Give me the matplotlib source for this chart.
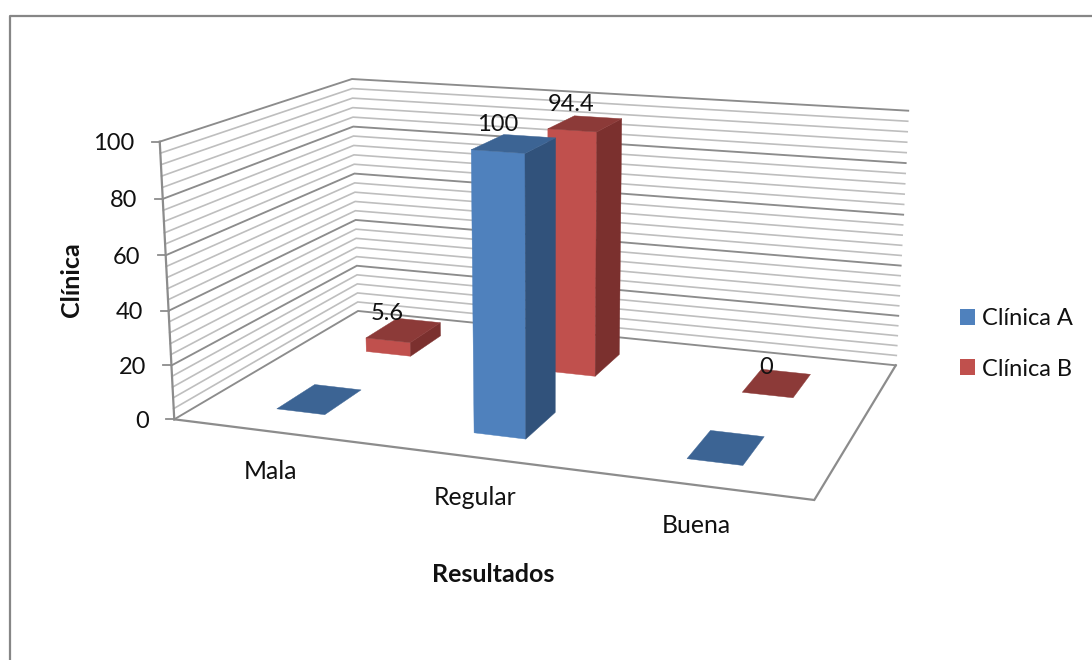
"""3D-style clustered column chart drawn on a flat canvas through a fitted perspective."""
import matplotlib

matplotlib.use("Agg")
import matplotlib.pyplot as plt
import numpy as np
from matplotlib.patches import Patch, Polygon

categories = ["Mala", "Regular", "Buena"]
clinica_a = [0, 100, 0]
clinica_b = [5.6, 94.4, 0]
series_names = ["Clínica A", "Clínica B"]
value_ticks = [0, 20, 40, 60, 80, 100]
minor_step = 4

# Box corners (category, depth, value) and where they land on the canvas
BOX_CORNERS = [(0, 0, 0), (0, 1, 0), (1, 1, 0), (1, 0, 0), (0, 0, 100), (0, 1, 100), (1, 1, 100)]
CANVAS_CORNERS = [(174, 419.3), (358.3, 311), (895.7, 365.3), (814.3, 500),
                  (160, 141.7), (351.7, 79), (908.3, 110.7)]

BAR_WIDTH = 1 / 12
BAR_DEPTH = 0.2
ROW_CENTER = [0.25, 0.75]

# Label nudges from the centre of each column top, per category
BLUE_LABEL_SHIFT = [(-16, -19), (-16, -19), (-16, -19)]
RED_LABEL_SHIFT = [(-16, -17), (-14, -19), (-11, -16)]

# front, side, top
BLUE = ("#4F81BD", "#31527B", "#3C6494")
RED = ("#C0504D", "#7B302E", "#8C3A38")
MAJOR = "#8C8C8C"
MINOR = "#BEBEBE"
TEXT = "#111111"

plt.rcParams["font.family"] = ["Lato", "DejaVu Sans"]


def fit_projection(model, canvas):
    rows, rhs = [], []
    for (x, y, z), (u, v) in zip(model, canvas):
        rows.append([x, y, z, 1, 0, 0, 0, 0, -u * x, -u * y, -u * z])
        rows.append([0, 0, 0, 0, x, y, z, 1, -v * x, -v * y, -v * z])
        rhs += [u, v]
    p = np.linalg.lstsq(np.array(rows, float), np.array(rhs, float), rcond=None)[0]
    return np.append(p, 1).reshape(3, 4)


P = fit_projection(BOX_CORNERS, CANVAS_CORNERS)


def project(x, y, z):
    h = P @ np.array([x, y, z, 1.0])
    return h[0] / h[2], h[1] / h[2]


def draw_bar(ax, cx, row, value, colors, zorder):
    x0, x1 = cx - BAR_WIDTH / 2, cx + BAR_WIDTH / 2
    y0, y1 = ROW_CENTER[row] - BAR_DEPTH / 2, ROW_CENTER[row] + BAR_DEPTH / 2
    faces = []
    if value > 0:
        faces.append((colors[0], [(x0, y0, 0), (x1, y0, 0), (x1, y0, value), (x0, y0, value)]))
        faces.append((colors[1], [(x1, y0, 0), (x1, y1, 0), (x1, y1, value), (x1, y0, value)]))
    faces.append((colors[2], [(x0, y0, value), (x1, y0, value), (x1, y1, value), (x0, y1, value)]))
    for color, corners in faces:
        ax.add_patch(Polygon([project(*c) for c in corners], closed=True, facecolor=color,
                             edgecolor=color, linewidth=0.3, zorder=zorder))


fig = plt.figure(figsize=(10.92, 6.6), dpi=100, facecolor="white")
ax = fig.add_axes([0, 0, 1, 1])
ax.set_xlim(0, 1092)
ax.set_ylim(660, 0)
ax.axis("off")

# Outer chart border: only the top and left edges are in frame
ax.plot([9.5, 9.5, 1092], [660, 15.5, 15.5], color="#868686", lw=1.6, zorder=1)

# Gridlines wrap from the left wall onto the back wall
for z in range(0, 101, minor_step):
    major = z % 20 == 0
    pts = [project(0, 0, z), project(0, 1, z), project(1, 1, z)]
    ax.plot(*zip(*pts), color=MAJOR if major else MINOR, lw=1.35 if major else 1.2,
            solid_joinstyle="miter", zorder=2)

# Floor edges and the value axis
floor = [project(0, 0, 0), project(1, 0, 0), project(1, 1, 0)]
ax.plot(*zip(*floor), color=MAJOR, lw=1.6, solid_joinstyle="miter", zorder=2)
ax.plot(*zip(project(0, 0, 0), project(0, 0, 100)), color=MAJOR, lw=1.6, zorder=2)

for z in value_ticks:
    u, v = project(0, 0, z)
    ax.plot([u - 8, u], [v, v], color=MAJOR, lw=1.3, zorder=2)
    ax.text(u - 25, v + 2, str(z), ha="right", va="center", fontsize=17, color=TEXT)

# Back row first so the front row overlaps it
centers = [(i + 0.5) / 3 for i in range(len(categories))]
for cx, value in zip(centers, clinica_b):
    draw_bar(ax, cx, 1, value, RED, 3)
for cx, value in zip(centers, clinica_a):
    draw_bar(ax, cx, 0, value, BLUE, 4)

# Blue columns at zero carry no label
for cx, value, (du, dv) in zip(centers, clinica_a, BLUE_LABEL_SHIFT):
    if value > 0:
        u, v = project(cx, ROW_CENTER[0], value)
        ax.text(u + du, v + dv, f"{value:g}", ha="center", va="center", fontsize=17, color=TEXT, zorder=6)
for cx, value, (du, dv) in zip(centers, clinica_b, RED_LABEL_SHIFT):
    u, v = project(cx, ROW_CENTER[1], value)
    ax.text(u + du, v + dv, f"{value:g}", ha="center", va="center", fontsize=17, color=TEXT, zorder=6)

for cx, name in zip(centers, categories):
    u, v = project(cx, 0, 0)
    ax.text(u, v + 40, name, ha="center", va="center", fontsize=17.8, color=TEXT)

ax.text(71, 280, "Clínica", rotation=90, ha="center", va="center", fontsize=18, fontweight="bold", color=TEXT)
ax.text(493, 574, "Resultados", ha="center", va="center", fontsize=18, fontweight="bold", color=TEXT)

handles = [Patch(facecolor=BLUE[0], label=series_names[0]), Patch(facecolor=RED[0], label=series_names[1])]
ax.legend(handles=handles, loc="upper left", bbox_to_anchor=(960, 308), bbox_transform=ax.transData,
          frameon=False, fontsize=17, borderpad=0, borderaxespad=0, handlelength=0.64, handleheight=0.64,
          handletextpad=0.3, labelspacing=1.25, labelcolor=TEXT)

fig.savefig("out.png", dpi=100, facecolor="white")
plt.close(fig)
